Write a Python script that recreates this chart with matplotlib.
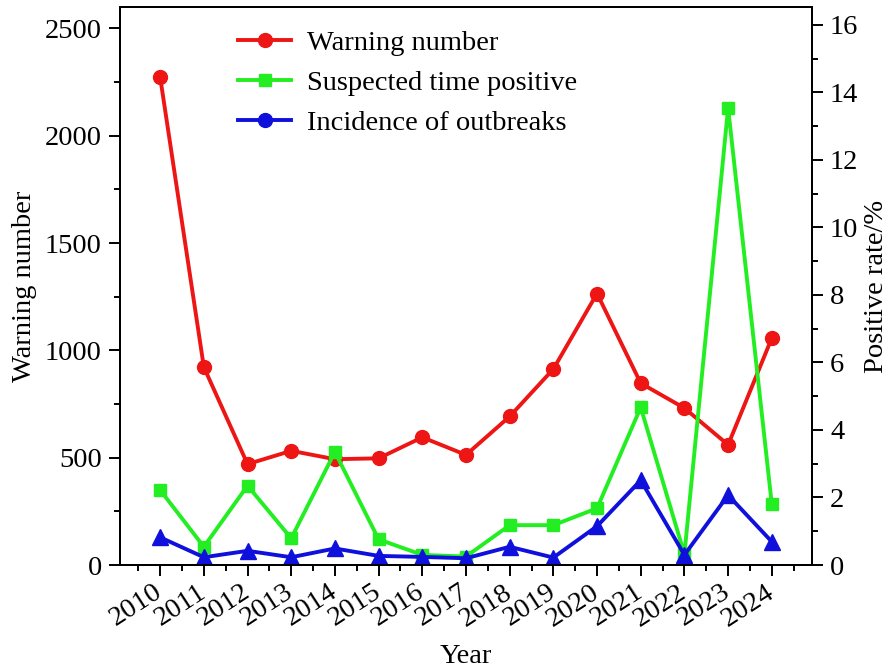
import matplotlib.pyplot as plt
from matplotlib.lines import Line2D
from matplotlib.ticker import MultipleLocator
from matplotlib.transforms import ScaledTranslation

plt.rcParams["font.family"] = ["Liberation Serif", "DejaVu Serif"]
plt.rcParams["font.size"] = 20.5

# values
years = [2010, 2011, 2012, 2013, 2014, 2015, 2016, 2017,
         2018, 2019, 2020, 2021, 2022, 2023, 2024]
warning_number = [2273, 922, 470, 532, 493, 497, 595, 513,
                  692, 913, 1265, 847, 731, 560, 1057]
suspected_positive = [2.22, 0.54, 2.35, 0.79, 3.35, 0.76, 0.30, 0.25,
                      1.18, 1.18, 1.68, 4.67, 0.32, 13.54, 1.80]
outbreak_incidence = [0.82, 0.23, 0.42, 0.23, 0.49, 0.27, 0.24, 0.20,
                      0.54, 0.22, 1.15, 2.51, 0.30, 2.07, 0.69]

RED = "#ee1515"
GREEN = "#22ee22"
BLUE = "#1010dd"
LW = 2.8

fig = plt.figure(figsize=(8.88, 6.70), dpi=100)
ax = fig.add_axes([0.1351, 0.1567, 0.7793, 0.8329])
ax2 = ax.twinx()

ax.plot(years, warning_number, color=RED, lw=LW, marker="o", ms=10, zorder=3)
ax2.plot(years, suspected_positive, color=GREEN, lw=LW, marker="s", ms=9)
ax2.plot(years, outbreak_incidence, color=BLUE, lw=LW, marker="^", ms=11)

ax.set_xlim(2009.08, 2024.92)
ax.set_ylim(0, 2600)
ax2.set_ylim(0, 16.53)

ax.set_xticks(years)
ax.set_xticklabels([str(y) for y in years], rotation=33, ha="right",
                   va="center", rotation_mode="anchor")
# nudge the slanted year labels a little to the right, as in the source
shift = ScaledTranslation(0.1, 0, fig.dpi_scale_trans)
for lab in ax.get_xticklabels():
    lab.set_transform(lab.get_transform() + shift)
ax.xaxis.set_minor_locator(MultipleLocator(0.5))
ax.yaxis.set_major_locator(MultipleLocator(500))
ax.yaxis.set_minor_locator(MultipleLocator(250))
ax2.yaxis.set_major_locator(MultipleLocator(2))
ax2.yaxis.set_minor_locator(MultipleLocator(1))

for a in (ax, ax2):
    a.tick_params(which="major", direction="out", length=8, width=1.4)
    a.tick_params(which="minor", direction="out", length=4.5, width=1.4)
    for s in a.spines.values():
        s.set_linewidth(1.4)
ax.tick_params(axis="x", which="major", pad=10)
ax.tick_params(axis="y", pad=5)
ax2.tick_params(axis="y", pad=5)

ax.set_xlabel("Year", labelpad=9)
ax.set_ylabel("Warning number", labelpad=6)
ax2.set_ylabel("Positive rate/%", labelpad=4)

handles = [
    Line2D([], [], color=RED, lw=LW, marker="o", ms=10),
    Line2D([], [], color=GREEN, lw=LW, marker="s", ms=9),
    Line2D([], [], color=BLUE, lw=LW, marker="o", ms=10),
]
labels = ["Warning number", "Suspected time positive", "Incidence of outbreaks"]
ax2.legend(handles, labels, loc="upper left", bbox_to_anchor=(0.246, 0.985),
           bbox_transform=fig.transFigure, frameon=False, handlelength=1.85,
           handletextpad=0.55, labelspacing=0.5, borderpad=0.2)

fig.savefig("out.png", dpi=100)
